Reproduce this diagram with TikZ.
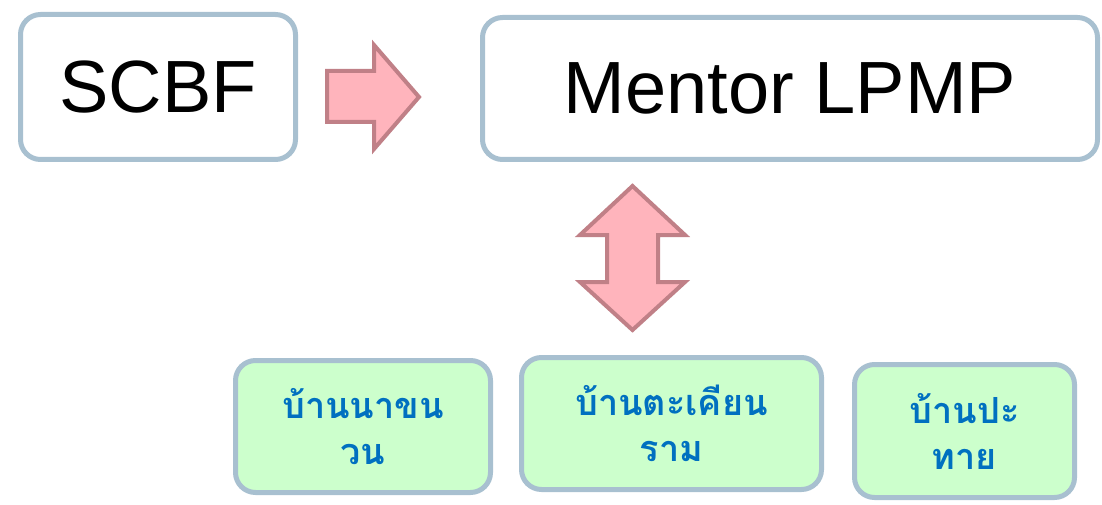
\documentclass[tikz,border=0pt]{standalone}
\usepackage{fontspec}
\setmainfont{Liberation Sans}
\newfontfamily\thaifont[Script=Thai]{Loma}
\definecolor{boxline}{RGB}{168,192,208}
\definecolor{villagefill}{RGB}{204,255,204}
\definecolor{villagetext}{RGB}{0,112,192}
\definecolor{arrowfill}{RGB}{255,180,188}
\definecolor{arrowline}{RGB}{192,128,135}
\tikzset{
  topbox/.style={draw=boxline,line width=5pt,rounded corners=20pt,fill=white,
    inner sep=0pt,font=\fontsize{74}{80}\selectfont},
  village/.style={draw=boxline,line width=5pt,rounded corners=20pt,fill=villagefill,
    inner sep=0pt,align=center,text=villagetext,font=\thaifont\bfseries\fontsize{36}{46}\selectfont},
  blockarrow/.style={draw=arrowline,line width=4pt,fill=arrowfill,line join=miter}
}
\begin{document}
\begin{tikzpicture}[x=1pt,y=-1pt]
   \useasboundingbox (0,0) rectangle (1102,505);
   \node (scbf) at (158,87) [topbox,minimum width=275pt,minimum height=145pt] {SCBF};
   \node (mentor) at (790,88.5) [topbox,minimum width=615pt,minimum height=142pt] {Mentor LPMP};
   \node (nakhwan) at (363,426.5) [village,minimum width=255pt,minimum height=132pt] {บ้านนาขน\\วน};
   \node (takhian) at (671.5,423.5) [village,minimum width=300pt,minimum height=132pt] {บ้านตะเคียน\\ราม};
   \node (pathai) at (964.5,431) [village,minimum width=220pt,minimum height=133pt] {บ้านปะ\\ทาย};
   % SCBF -> Mentor
   \draw[blockarrow] (327,71) -- (374,71) -- (374,45) -- (419,97) -- (374,149)
      -- (374,122) -- (327,122) -- cycle;
   % Mentor <-> villages
   \draw[blockarrow] (632.5,186) -- (685,235) -- (658,235) -- (658,282) -- (685,282)
      -- (632.5,330) -- (580,282) -- (607,282) -- (607,235) -- (580,235) -- cycle;
\end{tikzpicture}
\end{document}
